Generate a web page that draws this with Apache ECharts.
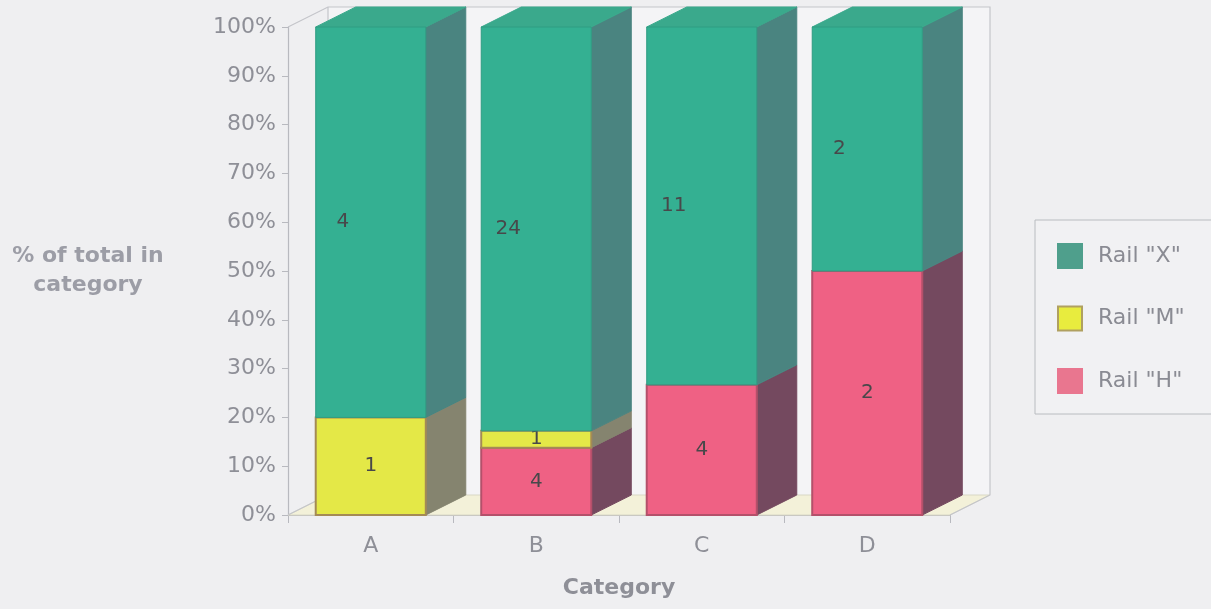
<!DOCTYPE html>
<html>
<head>
<meta charset="utf-8">
<script src="https://cdn.jsdelivr.net/npm/echarts@6/dist/echarts.min.js"></script>
<style>
  html, body { margin: 0; padding: 0; background: #efeff1; }
  #chart { width: 1211px; height: 609px; }
</style>
</head>
<body>
<div id="chart"></div>
<script>
// Counts per category for each rail type
const categories = ['A', 'B', 'C', 'D'];
const railH = [0, 4, 4, 2];
const railM = [1, 1, 0, 0];
const railX = [4, 24, 11, 2];
const seriesNames = ['Rail "H"', 'Rail "M"', 'Rail "X"'];
const legendOrder = ['Rail "X"', 'Rail "M"', 'Rail "H"'];
const yTickStep = 10;

// 3D box look
const DX = 40, DY = -20;
const BAR_RATIO = 0.665;
const FONT = '"DejaVu Sans", "Liberation Sans", sans-serif';

const STYLES = [
  { front: '#ef6184', side: '#74495f', edge: '#b4506a', lw: 2, legend: '#e9768f', legendBorder: '#e9768f', labelShift: 0 },
  { front: '#e4e847', side: '#85846f', edge: '#a48a55', lw: 2, legend: '#e8ec3e', legendBorder: '#b0a060', labelShift: 0 },
  { front: '#34b092', side: '#4a8480', top: '#3aa98c', edge: '#2f9c82', lw: 1, legend: '#4f9f8c', legendBorder: '#4f9f8c', labelShift: -28 }
];

// Build stacked 100% segments: [categoryIndex, lowPct, highPct, count]
const raw = [railH, railM, railX];
const totals = categories.map((_, i) => raw.reduce((s, arr) => s + arr[i], 0));
const cumulative = categories.map(() => 0);
const segments = raw.map(arr => {
  const out = [];
  arr.forEach((v, i) => {
    const lo = cumulative[i];
    const hi = lo + (v / totals[i]) * 100;
    cumulative[i] = hi;
    if (v > 0) out.push([i, lo, hi, v]);
  });
  return out;
});

function renderBox(params, api) {
  const cat = api.value(0), lo = api.value(1), hi = api.value(2), n = api.value(3);
  const band = api.size([1, 0])[0];
  const w = band * BAR_RATIO;
  const pLo = api.coord([cat, lo]);
  const pHi = api.coord([cat, hi]);
  const x0 = pLo[0] - w / 2, x1 = x0 + w, yb = pLo[1], yt = pHi[1];
  const st = STYLES[params.seriesIndex - 1];
  const children = [];
  children.push({
    type: 'polygon',
    shape: { points: [[x1, yb], [x1 + DX, yb + DY], [x1 + DX, yt + DY], [x1, yt]] },
    style: { fill: st.side, stroke: st.side, lineWidth: 1 }
  });
  if (hi >= 99.999 && st.top) {
    children.push({
      type: 'polygon',
      shape: { points: [[x0, yt], [x0 + DX, yt + DY], [x1 + DX, yt + DY], [x1, yt]] },
      style: { fill: st.top, stroke: st.top, lineWidth: 1 }
    });
  }
  children.push({
    type: 'rect',
    shape: { x: x0, y: yt, width: w, height: yb - yt },
    style: { fill: st.front, stroke: st.edge, lineWidth: st.lw }
  });
  children.push({
    type: 'text',
    x: (x0 + x1) / 2 + st.labelShift,
    y: (yb + yt) / 2,
    style: {
      text: String(n), fill: '#48484a', font: '20px ' + FONT,
      align: 'center', verticalAlign: 'middle'
    }
  });
  return { type: 'group', children };
}

// Floor and back walls of the plot box
function renderFrame(params, api) {
  const band = api.size([1, 0])[0];
  const xl = api.coord([0, 0])[0] - band / 2;
  const xr = api.coord([categories.length - 1, 0])[0] + band / 2;
  const y0 = api.coord([0, 0])[1];
  const y1 = api.coord([0, 100])[1];
  const line = { stroke: '#c4c5ca', lineWidth: 1.2, fill: null };
  return {
    type: 'group',
    children: [
      { type: 'polygon', shape: { points: [[xl + DX, y1 + DY], [xr + DX, y1 + DY], [xr + DX, y0 + DY], [xl + DX, y0 + DY]] },
        style: { fill: '#f4f4f6' } },
      { type: 'polygon', shape: { points: [[xl, y0], [xr, y0], [xr + DX, y0 + DY], [xl + DX, y0 + DY]] },
        style: { fill: '#f3f1d9', stroke: '#d9d8c6', lineWidth: 1 } },
      { type: 'polyline', shape: { points: [[xl, y1], [xl + DX, y1 + DY], [xr + DX, y1 + DY], [xr + DX, y0 + DY], [xr, y0]] }, style: line },
      { type: 'polyline', shape: { points: [[xl, y0], [xl + DX, y0 + DY], [xl + DX, y1 + DY]] }, style: line }
    ]
  };
}

const chart = echarts.init(document.getElementById('chart'), null, { renderer: 'canvas' });

const series = [{
  type: 'custom', name: 'frame', renderItem: renderFrame, data: [[0, 0]], z: 1, silent: true
}];
segments.forEach((data, k) => {
  series.push({
    type: 'custom',
    name: seriesNames[k],
    renderItem: renderBox,
    data: data,
    z: 2,
    itemStyle: { color: STYLES[k].legend, borderColor: STYLES[k].legendBorder, borderWidth: 1.5 },
    encode: { x: 0, y: [1, 2] }
  });
});

chart.setOption({
  backgroundColor: '#efeff1',
  animation: false,
  grid: { left: 288, right: 261, top: 27, bottom: 94 },
  legend: {
    data: legendOrder,
    orient: 'vertical',
    left: 1035, top: 220,
    padding: [23, 40, 20, 22],
    itemWidth: 24, itemHeight: 24, itemGap: 36.5,
    backgroundColor: '#f1f1f3',
    borderColor: '#b9bcc0', borderWidth: 1, borderRadius: 0,
    icon: 'rect',
    textStyle: { fontFamily: FONT, fontSize: 22, color: '#8a8b93', padding: [0, 0, 0, 11], lineHeight: 24 }
  },
  xAxis: {
    type: 'category',
    data: categories,
    axisLine: { show: true, lineStyle: { color: '#b8b9bf', width: 1.2 } },
    axisTick: { show: true, length: 8, lineStyle: { color: '#b8b9bf' } },
    axisLabel: { fontFamily: FONT, fontSize: 22, color: '#8e8f97', margin: 20 },
    splitLine: { show: false }
  },
  yAxis: {
    type: 'value',
    min: 0, max: 100, interval: yTickStep,
    axisLine: { show: true, lineStyle: { color: '#b8b9bf', width: 1.2 } },
    axisTick: { show: true, length: 6, lineStyle: { color: '#b8b9bf' } },
    axisLabel: { fontFamily: FONT, fontSize: 22, color: '#8e8f97', margin: 12, formatter: '{value}%' },
    splitLine: { show: false }
  },
  graphic: [
    { type: 'text', x: 88, y: 256,
      style: { text: '% of total in', font: 'bold 22px ' + FONT, fill: '#9c9da6', align: 'center', verticalAlign: 'middle' } },
    { type: 'text', x: 88, y: 285,
      style: { text: 'category', font: 'bold 22px ' + FONT, fill: '#9c9da6', align: 'center', verticalAlign: 'middle' } },
    { type: 'text', x: 619, y: 588,
      style: { text: 'Category', font: 'bold 22px ' + FONT, fill: '#8e8f97', align: 'center', verticalAlign: 'middle' } }
  ],
  series: series
});
</script>
</body>
</html>
